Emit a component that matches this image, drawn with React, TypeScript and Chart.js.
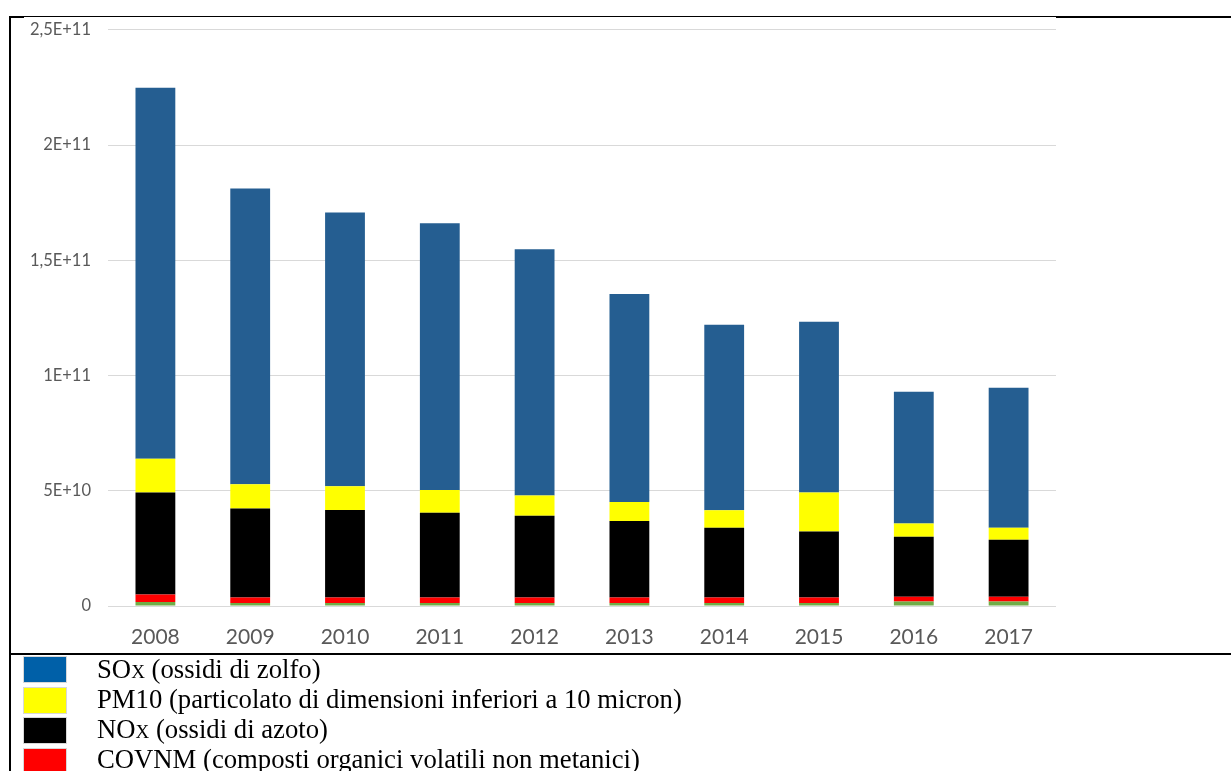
import React, { useEffect, useRef } from "react";
import { Chart, registerables } from "chart.js";

Chart.register(...registerables);

const years = ["2008", "2009", "2010", "2011", "2012", "2013", "2014", "2015", "2016", "2017"];
const nh3 = [1.7e9, 1.3e9, 1.3e9, 1.3e9, 1.3e9, 1.3e9, 1.3e9, 1.3e9, 2.0e9, 2.0e9];
const covnm = [3.3e9, 2.4e9, 2.4e9, 2.4e9, 2.4e9, 2.4e9, 2.4e9, 2.4e9, 2.0e9, 2.0e9];
const nox = [4.42e10, 3.86e10, 3.8e10, 3.68e10, 3.55e10, 3.32e10, 3.03e10, 2.86e10, 2.6e10, 2.47e10];
const pm10 = [1.47e10, 1.05e10, 1.03e10, 0.98e10, 0.88e10, 0.82e10, 0.75e10, 1.69e10, 0.58e10, 0.53e10];
const sox = [16.1e10, 12.84e10, 11.88e10, 11.58e10, 10.68e10, 9.03e10, 8.05e10, 7.41e10, 5.72e10, 6.07e10];
const yTickLabels = ["0", "5E+10", "1E+11", "1,5E+11", "2E+11", "2,5E+11"];

const legendItems = [
  { color: "#0060A8", main: "SO", sub: "X", rest: " (ossidi di zolfo)" },
  { color: "#FFFF00", main: "PM10 (particolato di dimensioni inferiori a 10 micron)", sub: "", rest: "" },
  { color: "#000000", main: "NO", sub: "X", rest: " (ossidi di azoto)" },
  { color: "#FF0000", main: "COVNM (composti organici volatili non metanici)", sub: "", rest: "" },
];

export default function App() {
  const ref = useRef<HTMLCanvasElement | null>(null);

  useEffect(() => {
    if (!ref.current) return;
    const chart = new Chart(ref.current, {
      type: "bar",
      data: {
        labels: years,
        datasets: [
          { label: "NH3", data: nh3, backgroundColor: "#70AD47" },
          { label: "COVNM", data: covnm, backgroundColor: "#FF0000" },
          { label: "NOx", data: nox, backgroundColor: "#000000" },
          { label: "PM10", data: pm10, backgroundColor: "#FFFF00" },
          { label: "SOx", data: sox, backgroundColor: "#255E91" },
        ].map((d) => ({ ...d, categoryPercentage: 1, barPercentage: 0.42, borderWidth: 0 })),
      },
      options: {
        responsive: false,
        animation: false,
        layout: { padding: { top: 10, right: 0, left: 0, bottom: 0 } },
        plugins: { legend: { display: false }, tooltip: { enabled: false } },
        scales: {
          x: {
            stacked: true,
            grid: { display: false, drawTicks: false },
            border: { display: false },
            ticks: {
              color: "#595959",
              font: { family: "Lato", size: 21 },
              padding: 19,
            },
            afterFit: (s: any) => {
              s.height = 48;
            },
          },
          y: {
            stacked: true,
            min: 0,
            max: 2.5e11,
            grid: { color: "#D9D9D9", lineWidth: 1, drawTicks: false },
            border: { display: false },
            ticks: {
              stepSize: 5e10,
              color: "#595959",
              font: { family: "Lato", size: 16.5 },
              padding: 17,
              callback: (_v: any, i: number) => yTickLabels[i],
            },
            afterFit: (s: any) => {
              s.width = 98;
            },
          },
        },
      },
    });
    return () => chart.destroy();
  }, []);

  const legendTops = [654, 684, 714, 744];

  return (
    <div
      style={{
        position: "fixed",
        left: 0,
        top: 0,
        width: 1231,
        height: 771,
        overflow: "hidden",
        background: "#fff",
      }}
    >
      <canvas
        ref={ref}
        width={1046}
        height={651}
        style={{ position: "absolute", left: 10, top: 3, width: 1046, height: 651 }}
      />
      {/* borders */}
      <div style={{ position: "absolute", left: 9, top: 16, width: 1222, height: 1, background: "#000" }} />
      <div style={{ position: "absolute", left: 9, top: 17, width: 15, height: 1, background: "#000" }} />
      <div style={{ position: "absolute", left: 1056, top: 17, width: 175, height: 1, background: "#000" }} />
      <div style={{ position: "absolute", left: 9, top: 16, width: 2, height: 755, background: "#000" }} />
      <div style={{ position: "absolute", left: 9, top: 653, width: 1222, height: 2, background: "#000" }} />
      {legendItems.map((it, i) => (
        <React.Fragment key={i}>
          <div
            style={{
              position: "absolute",
              left: 23,
              top: [656, 687, 717, 748][i],
              width: 44,
              height: 27,
              background: it.color,
              boxSizing: "border-box",
              border: "1px solid #d8d8d8",
            }}
          />
          <div
            style={{
              position: "absolute",
              left: 97,
              top: legendTops[i],
              height: 31,
              lineHeight: "31px",
              fontFamily: "'Liberation Serif', 'Times New Roman', serif",
              fontSize: 26.7,
              color: "#000",
              whiteSpace: "nowrap",
            }}
          >
            {it.main}
            {it.sub ? <span style={{ fontSize: 19 }}>{it.sub}</span> : null}
            {it.rest}
          </div>
        </React.Fragment>
      ))}
    </div>
  );
}
